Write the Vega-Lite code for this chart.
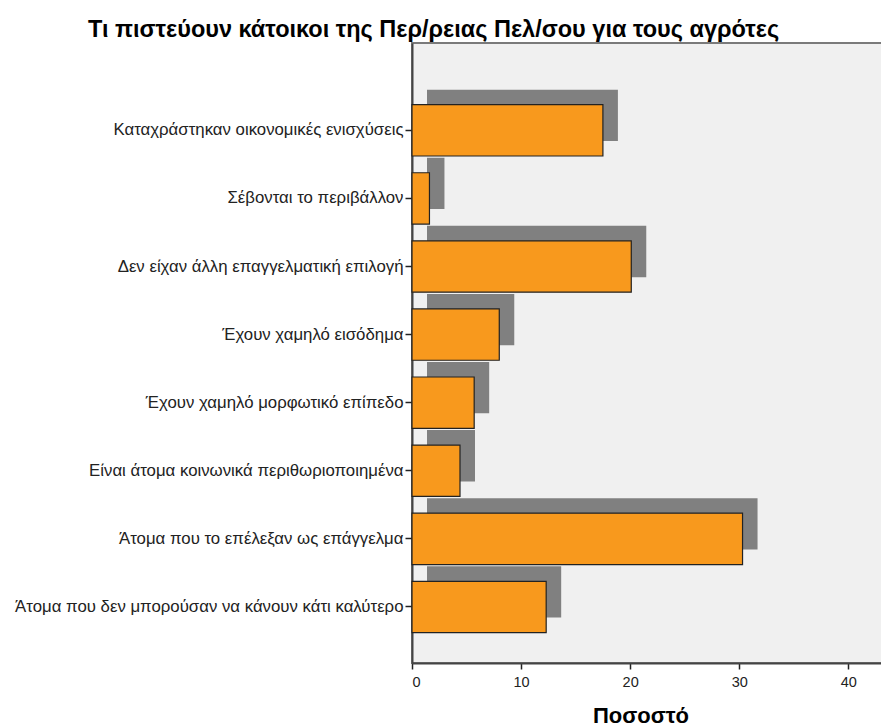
{
  "$schema": "https://vega.github.io/schema/vega-lite/v6.json",
  "width": 480,
  "height": 620,
  "autosize": {"type": "none"},
  "padding": {"left": 412, "top": 43, "right": 0, "bottom": 63},
  "background": "white",
  "title": {
    "text": "Τι πιστεύουν κάτοικοι της Περ/ρειας Πελ/σου για τους αγρότες",
    "font": "Liberation Sans",
    "fontSize": 23.5,
    "fontWeight": "bold",
    "color": "#000000",
    "anchor": "start",
    "frame": "group",
    "dx": -324,
    "offset": 2
  },
  "config": {
    "view": {"fill": "#f0f0f0", "stroke": "#7a7a7a", "strokeWidth": 2}
  },
  "data": {
    "values": [
      {"category": "Καταχράστηκαν οικονομικές ενισχύσεις", "value": 17.5},
      {"category": "Σέβονται το περιβάλλον", "value": 1.6},
      {"category": "Δεν είχαν άλλη επαγγελματική επιλογή", "value": 20.1},
      {"category": "Έχουν χαμηλό εισόδημα", "value": 8.0},
      {"category": "Έχουν χαμηλό μορφωτικό επίπεδο", "value": 5.7},
      {"category": "Είναι άτομα κοινωνικά περιθωριοποιημένα", "value": 4.4},
      {"category": "Άτομα που το επέλεξαν ως επάγγελμα", "value": 30.3},
      {"category": "Άτομα που δεν μπορούσαν να κάνουν κάτι καλύτερο", "value": 12.3}
    ]
  },
  "encoding": {
    "y": {
      "field": "category",
      "type": "nominal",
      "sort": null,
      "scale": {"paddingInner": 0.246, "paddingOuter": 0.676, "align": 0.67},
      "axis": {
        "title": null,
        "labelFont": "Liberation Sans",
        "labelFontSize": 16.8,
        "labelColor": "#222222",
        "labelLimit": 500,
        "labelPadding": 2,
        "tickSize": 7,
        "tickColor": "#222222",
        "tickWidth": 1.5,
        "domainColor": "#444444",
        "domainWidth": 2
      }
    },
    "x": {
      "field": "value",
      "type": "quantitative",
      "scale": {"domain": [0, 44], "nice": false},
      "axis": {
        "values": [0, 10, 20, 30, 40],
        "grid": false,
        "title": "Ποσοστό",
        "titleFont": "Liberation Sans",
        "titleFontSize": 22,
        "titleFontWeight": "bold",
        "titleColor": "#000000",
        "titlePadding": 17,
        "titleX": 228.5,
        "labelFont": "Liberation Sans",
        "labelFontSize": 14.5,
        "labelColor": "#222222",
        "labelPadding": 6,
        "tickSize": 6,
        "tickColor": "#222222",
        "tickWidth": 1.5,
        "domainColor": "#444444",
        "domainWidth": 2
      }
    }
  },
  "layer": [
    {
      "mark": {"type": "bar", "color": "#808080", "xOffset": 15, "x2Offset": 15, "yOffset": -15, "y2Offset": -15}
    },
    {
      "mark": {"type": "bar", "color": "#f8991d", "stroke": "#222222", "strokeWidth": 1.2}
    }
  ]
}
